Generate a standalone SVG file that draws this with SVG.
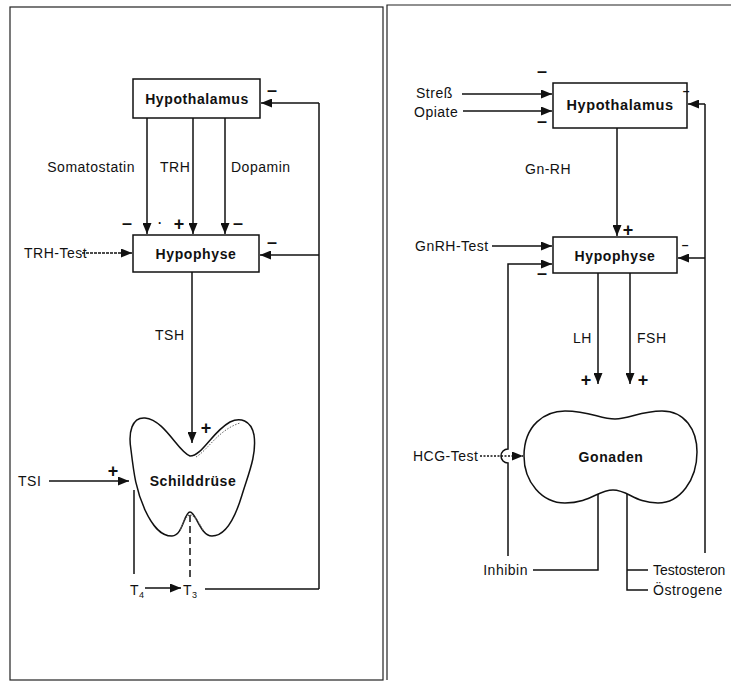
<svg xmlns="http://www.w3.org/2000/svg" width="731" height="682" viewBox="0 0 731 682">
<style>
.frame{fill:none;stroke:#222;stroke-width:1.2}
.box{fill:#fff;stroke:#111;stroke-width:1.5}
.ln{fill:none;stroke:#111;stroke-width:1.5}
.ar{fill:none;stroke:#111;stroke-width:1.5;marker-end:url(#ah)}
.lb{font-family:"Liberation Sans",Arial,sans-serif;font-size:14px;fill:#111;letter-spacing:0.5px}
.bl{font-family:"Liberation Sans",Arial,sans-serif;font-size:14px;font-weight:bold;fill:#111;letter-spacing:0.6px;text-anchor:middle}
.sg{font-family:"Liberation Sans",Arial,sans-serif;font-size:18px;font-weight:bold;fill:#111;text-anchor:middle}
.org{fill:#fff;stroke:#111;stroke-width:1.5}
</style>
<defs>
<marker id="ah" markerUnits="userSpaceOnUse" markerWidth="11" markerHeight="9" refX="11" refY="4.5" orient="auto">
<path d="M0,0 L11,4.5 L0,9 Z" fill="#111"/>
</marker>
</defs>
<rect width="731" height="682" fill="#fff"/>
<g id="frames">
<rect class="frame" x="10" y="7" width="373" height="673"/>
<path class="frame" d="M387,680 L387,5 L731,5"/>
</g>
<g id="connectors">
<line class="ar" x1="147" y1="118" x2="147" y2="234"/>
<line class="ar" x1="193" y1="118" x2="193" y2="234"/>
<line class="ar" x1="225" y1="118" x2="225" y2="234"/>
<line class="ar" x1="82" y1="253" x2="132" y2="253" stroke-dasharray="3,1"/>
<path class="ln" d="M319,589 L319,103"/>
<line class="ar" x1="319" y1="103" x2="261" y2="103"/>
<line class="ar" x1="319" y1="255" x2="260" y2="255"/>
<line class="ar" x1="192" y1="272" x2="192" y2="443"/>
<line class="ar" x1="49" y1="481" x2="129" y2="481"/>
<line class="ln" x1="134" y1="490" x2="134" y2="574"/>
<line class="ln" x1="190" y1="515" x2="190" y2="577" stroke-dasharray="7,4"/>
<line class="ar" x1="145" y1="588" x2="181" y2="588"/>
<line class="ln" x1="205" y1="589" x2="319" y2="589"/>
<line class="ar" x1="462" y1="94" x2="552" y2="94"/>
<line class="ar" x1="463" y1="111" x2="552" y2="111"/>
<path class="ln" d="M705,553 L705,104"/>
<line class="ar" x1="705" y1="104" x2="688" y2="104"/>
<line class="ar" x1="705" y1="258" x2="678" y2="258"/>
<line class="ar" x1="617" y1="128" x2="617" y2="236"/>
<line class="ar" x1="492" y1="246" x2="552" y2="246"/>
<path class="ln" d="M508,556 L508,463 A7,7 0 0 1 508,449 L508,264 L540,264"/>
<line class="ar" x1="540" y1="264" x2="552" y2="264"/>
<line class="ar" x1="480" y1="456" x2="523" y2="456" stroke-dasharray="2,1.5"/>
<line class="ar" x1="598" y1="273" x2="598" y2="384"/>
<line class="ar" x1="630" y1="273" x2="630" y2="384"/>
<path class="ln" d="M598,490 L598,570 L533,570"/>
<path class="ln" d="M627,490 L627,590 L648,590 M627,570 L648,570"/>
</g>
<g id="hypothalamus-l">
<rect class="box" x="133" y="79" width="127" height="39"/>
<text class="bl" x="197" y="104">Hypothalamus</text>
</g>
<g id="hypophyse-l">
<rect class="box" x="133" y="235" width="126" height="37"/>
<text class="bl" x="196" y="259">Hypophyse</text>
</g>
<g id="schilddruese">
<path class="org" d="M190,456 C178,452 165,420 145,418 C132,417 128,432 131,450 C134,475 136,490 145,510 C152,525 160,536 172,536 C183,536 184,512 190,512 C196,512 200,536 212,536 C226,536 236,515 242,495 C248,475 257,455 254,435 C251,420 240,417 230,422 C212,432 202,456 190,456 Z"/>
<path d="M196,457 C208,450 218,430 240,423" fill="none" stroke="#666" stroke-width="1" stroke-dasharray="1.5,1.5"/>
<path d="M180,530 C184,522 186,515 190,515 C195,515 198,522 203,530" fill="none" stroke="#555" stroke-width="1.2" stroke-dasharray="1.5,1.2"/>
<text class="bl" x="193" y="486">Schilddrüse</text>
</g>
<g id="hypothalamus-r">
<rect class="box" x="553" y="83" width="134" height="45"/>
<text class="bl" x="620" y="110" style="font-size:14.5px">Hypothalamus</text>
</g>
<g id="hypophyse-r">
<rect class="box" x="553" y="237" width="124" height="36"/>
<text class="bl" x="615" y="261">Hypophyse</text>
</g>
<g id="gonaden">
<path class="org" d="M524,456 C524,425 545,411 565,411 C590,411 600,419 615,419 C630,419 640,411 662,411 C685,411 697,430 697,452 C697,480 680,503 658,503 C635,503 628,490 613,490 C598,490 590,503 565,503 C542,503 524,482 524,456 Z"/>
<text class="bl" x="611" y="462">Gonaden</text>
</g>
<g id="labels">
<text class="lb" x="135" y="172" text-anchor="end">Somatostatin</text>
<text class="lb" x="160" y="172">TRH</text>
<text class="lb" x="231" y="172">Dopamin</text>
<text class="lb" x="24" y="258">TRH-Test</text>
<text class="lb" x="155" y="340">TSH</text>
<text class="lb" x="18" y="486">TSI</text>
<text class="lb" x="130" y="595">T<tspan font-size="9" dy="3">4</tspan></text>
<text class="lb" x="183" y="595">T<tspan font-size="9" dy="3">3</tspan></text>
<text class="lb" x="416" y="98">Streß</text>
<text class="lb" x="414" y="117">Opiate</text>
<text class="lb" x="525" y="174">Gn-RH</text>
<text class="lb" x="415" y="251">GnRH-Test</text>
<text class="lb" x="573" y="343">LH</text>
<text class="lb" x="637" y="343">FSH</text>
<text class="lb" x="413" y="461">HCG-Test</text>
<text class="lb" x="528" y="575" text-anchor="end">Inhibin</text>
<text class="lb" x="653" y="575" style="letter-spacing:0">Testosteron</text>
<text class="lb" x="653" y="595">Östrogene</text>
</g>
<g id="signs">
<text class="sg" x="127" y="229">–</text>
<text class="sg" x="160" y="227" style="font-size:12px">·</text>
<text class="sg" x="179" y="230">+</text>
<text class="sg" x="238" y="229">–</text>
<text class="sg" x="272" y="96">–</text>
<text class="sg" x="272" y="248">–</text>
<text class="sg" x="206" y="434">+</text>
<text class="sg" x="113" y="477">+</text>
<text class="sg" x="542" y="77">–</text>
<text class="sg" x="542" y="127">–</text>
<text class="sg" x="686" y="95" style="font-size:12px">–</text>
<text class="sg" x="628" y="236">+</text>
<text class="sg" x="685" y="249" style="font-size:12px">–</text>
<text class="sg" x="542" y="279">–</text>
<text class="sg" x="586" y="386">+</text>
<text class="sg" x="643" y="386">+</text>
</g>
</svg>
